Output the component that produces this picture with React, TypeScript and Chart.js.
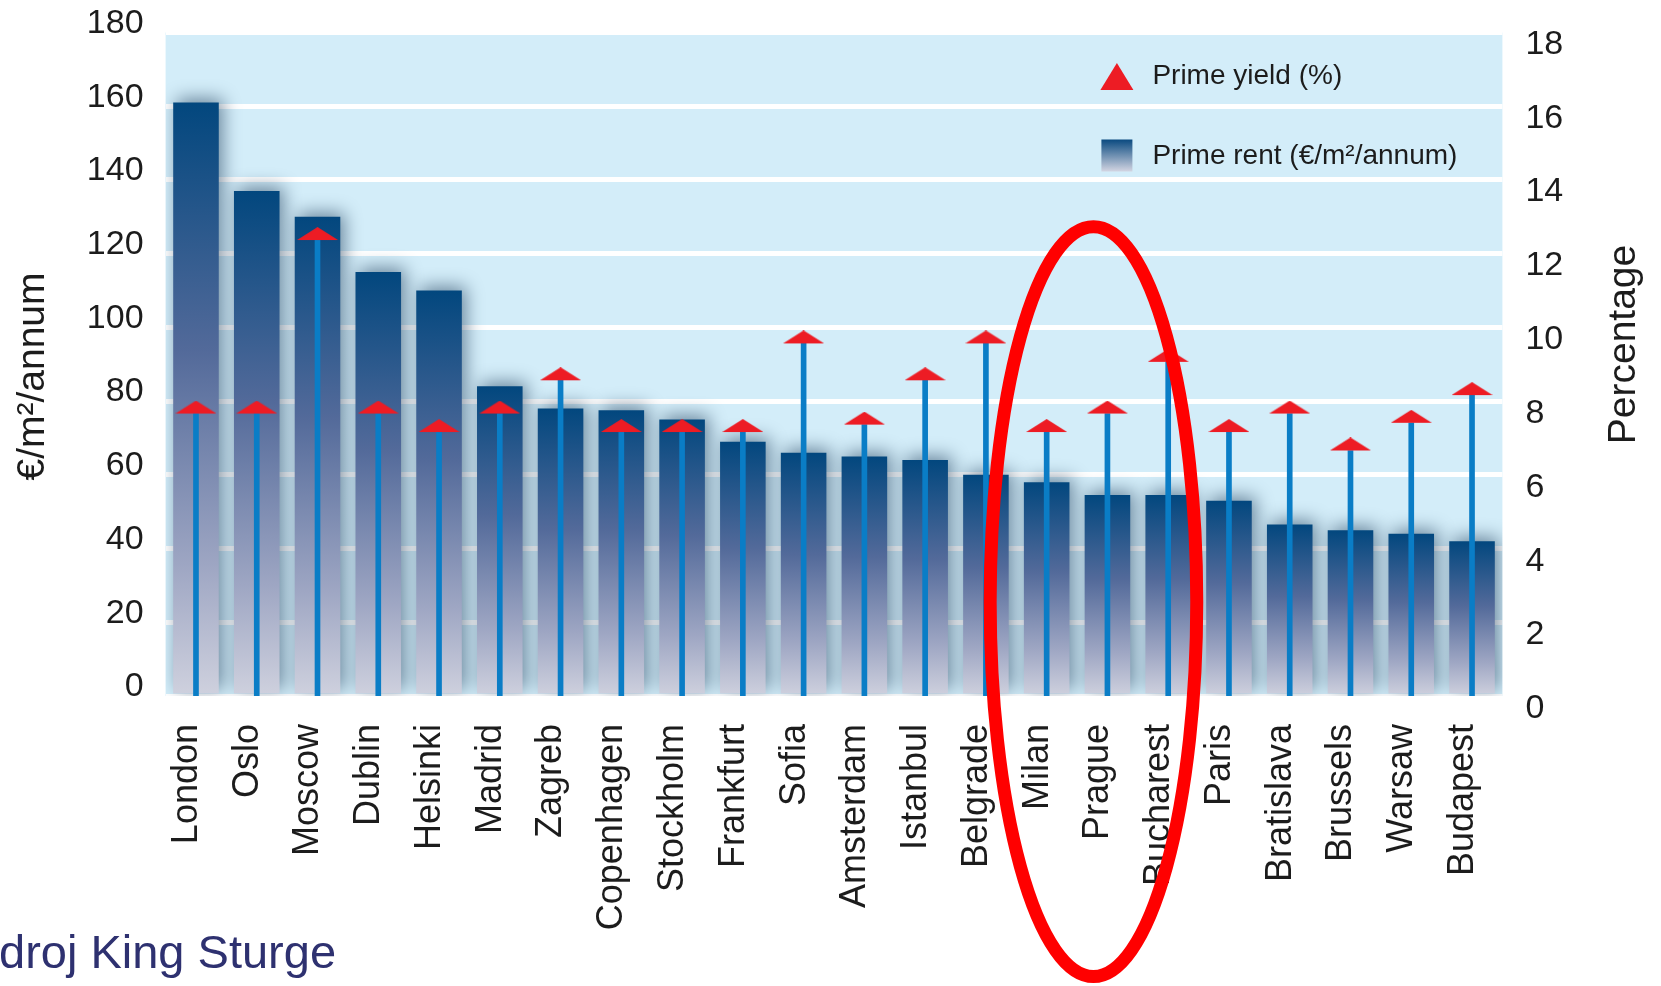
import React, { useEffect, useRef } from 'react';
import { Chart, registerables } from 'chart.js';

Chart.register(...registerables);

// ---------- data ----------
const cities = [
  'London', 'Oslo', 'Moscow', 'Dublin', 'Helsinki', 'Madrid', 'Zagreb', 'Copenhagen',
  'Stockholm', 'Frankfurt', 'Sofia', 'Amsterdam', 'Istanbul', 'Belgrade', 'Milan',
  'Prague', 'Bucharest', 'Paris', 'Bratislava', 'Brussels', 'Warsaw', 'Budapest',
];
const primeRent = [161, 137, 130, 115, 110, 84, 78, 77.5, 75, 69, 66, 65, 64, 60, 58, 54.5, 54.5, 53, 46.5, 45, 44, 42];
const primeYield = [8.0, 8.0, 12.7, 8.0, 7.5, 8.0, 8.9, 7.5, 7.5, 7.5, 9.9, 7.7, 8.9, 9.9, 7.5, 8.0, 9.4, 7.5, 8.0, 7.0, 7.75, 8.5];
const rentTicks = [0, 20, 40, 60, 80, 100, 120, 140, 160, 180];
const yieldTicks = [0, 2, 4, 6, 8, 10, 12, 14, 16, 18];

const rentLabel = 'Prime rent (€/m²/annum)';
const yieldLabel = 'Prime yield (%)';
const leftTitle = '€/m²/annum';
const rightTitle = 'Percentage';
const sourceText = 'droj King Sturge';
const highlightCity = 'Prague';

// ---------- styles ----------
const FONT = '"Liberation Sans", Arial, Helvetica, sans-serif';
const RED = '#ed1c24';
const STEM = '#0a7dc6';
const BAND = '#d3edf9';
const TEXT = '#1c1c1c';

function makeTriangle(w: number, h: number, color: string) {
  const c = document.createElement('canvas');
  c.width = w;
  c.height = h * 2;
  const g = c.getContext('2d')!;
  g.fillStyle = color;
  g.beginPath();
  g.moveTo(w / 2, 0);
  g.lineTo(w, h);
  g.lineTo(0, h);
  g.closePath();
  g.fill();
  return c;
}

function rentGradientStops(g: CanvasGradient) {
  g.addColorStop(0, '#02477e');
  g.addColorStop(0.42, '#536a9a');
  g.addColorStop(0.78, '#9ea6c3');
  g.addColorStop(1, '#cfd1de');
}

const bandPlugin = {
  id: 'band',
  beforeDraw(chart: any) {
    const { ctx, chartArea: a } = chart;
    if (!a) return;
    ctx.save();
    ctx.fillStyle = BAND;
    ctx.fillRect(a.left, a.top, a.right - a.left, a.bottom - a.top);
    ctx.restore();
  },
};

const shadowPlugin = {
  id: 'barShadow',
  beforeDatasetDraw(chart: any, args: any) {
    if (args.index !== 2) return;
    const ctx = chart.ctx;
    ctx.save();
    ctx.shadowColor = 'rgba(20,50,80,0.55)';
    ctx.shadowBlur = 18;
    ctx.shadowOffsetX = 4;
    ctx.shadowOffsetY = -4;
  },
  afterDatasetDraw(chart: any, args: any) {
    if (args.index !== 2) return;
    chart.ctx.restore();
  },
};

const legendPlugin = {
  id: 'insideLegend',
  afterDatasetsDraw(chart: any) {
    const { ctx, chartArea: a } = chart;
    const x0 = a.right - 402;
    const yA = a.top + 44;
    const yB = a.top + 123;
    ctx.save();
    ctx.fillStyle = RED;
    ctx.beginPath();
    ctx.moveTo(x0 + 16.5, yA - 13.5);
    ctx.lineTo(x0 + 33, yA + 13.5);
    ctx.lineTo(x0, yA + 13.5);
    ctx.closePath();
    ctx.fill();
    const g = ctx.createLinearGradient(0, yB - 16, 0, yB + 16);
    g.addColorStop(0, '#0a4a80');
    g.addColorStop(1, '#d3d5e2');
    ctx.fillStyle = g;
    ctx.fillRect(x0 + 1, yB - 16, 31, 32);
    ctx.fillStyle = TEXT;
    ctx.font = `28px ${FONT}`;
    ctx.textAlign = 'left';
    ctx.textBaseline = 'middle';
    ctx.fillText(yieldLabel, x0 + 52, yA);
    ctx.fillText(rentLabel, x0 + 52, yB + 1);
    ctx.restore();
  },
};

const titlesPlugin = {
  id: 'axisTitles',
  afterDraw(chart: any) {
    const { ctx, chartArea: a } = chart;
    ctx.save();
    ctx.fillStyle = TEXT;
    ctx.font = `39px ${FONT}`;
    ctx.textAlign = 'center';
    ctx.textBaseline = 'middle';
    ctx.save();
    ctx.translate(a.left - 132, a.top + 344);
    ctx.rotate(-Math.PI / 2);
    ctx.fillText(leftTitle, 0, 0);
    ctx.restore();
    ctx.save();
    ctx.translate(a.right + 122, a.top + 312);
    ctx.rotate(-Math.PI / 2);
    ctx.fillText(rightTitle, 0, 0);
    ctx.restore();
    ctx.restore();
  },
};

const highlightPlugin = {
  id: 'highlight',
  afterDraw(chart: any) {
    const { ctx } = chart;
    const xs = chart.scales.x;
    const ys = chart.scales.y;
    const idx = cities.indexOf(highlightCity);
    const step = xs.getPixelForValue(1) - xs.getPixelForValue(0);
    const cx = xs.getPixelForValue(idx) - 0.23 * step;
    const top = ys.getPixelForValue(127.3);
    const bottom = chart.height - 9.5;
    const cy = (top + bottom) / 2;
    const ry = (bottom - top) / 2;
    const rx = 1.7 * step;
    ctx.save();
    ctx.strokeStyle = '#ff0000';
    ctx.lineWidth = 13;
    ctx.beginPath();
    ctx.ellipse(cx, cy, rx, ry, 0, 0, Math.PI * 2);
    ctx.stroke();
    ctx.restore();
  },
};

export default function App() {
  const ref = useRef<HTMLCanvasElement | null>(null);

  useEffect(() => {
    if (!ref.current) return;
    Chart.defaults.font.family = FONT;
    const tri = makeTriangle(41, 13, RED);

    const rentFill = (c: any) => {
      const chart = c.chart;
      const area = chart.chartArea;
      if (!area || c.type !== 'data') return '#3a5f8f';
      const top = chart.scales.y.getPixelForValue(c.raw);
      const g = chart.ctx.createLinearGradient(0, top, 0, area.bottom);
      rentGradientStops(g);
      return g;
    };

    const chart = new Chart(ref.current, {
      type: 'bar',
      data: {
        labels: cities,
        datasets: [
          {
            type: 'line',
            label: yieldLabel,
            data: primeYield,
            yAxisID: 'y1',
            showLine: false,
            pointStyle: tri as any,
            pointRadius: 6,
            pointHoverRadius: 6,
            backgroundColor: RED,
            borderColor: RED,
            order: 1,
            clip: false as any,
          } as any,
          {
            type: 'bar',
            label: 'yield stem',
            data: primeYield,
            yAxisID: 'y1',
            backgroundColor: STEM,
            barThickness: 5,
            grouped: false,
            order: 2,
          } as any,
          {
            type: 'bar',
            label: rentLabel,
            data: primeRent,
            yAxisID: 'y',
            backgroundColor: rentFill,
            barPercentage: 0.75,
            categoryPercentage: 1,
            grouped: false,
            borderWidth: 0,
            order: 3,
          } as any,
        ],
      },
      options: {
        animation: false,
        responsive: true,
        maintainAspectRatio: false,
        events: [],
        layout: { padding: { top: 32.5, left: 0, right: 0, bottom: 0 } },
        plugins: {
          legend: { display: false },
          tooltip: { enabled: false },
        },
        scales: {
          x: {
            grid: { display: false, drawTicks: false },
            border: { display: false },
            ticks: {
              font: { size: 36 },
              color: TEXT,
              minRotation: 90,
              maxRotation: 90,
              autoSkip: false,
              padding: 28,
              labelOffset: -9,
            },
            afterFit: (s: any) => {
              s.height = 290;
              s.paddingLeft = 0;
              s.paddingRight = 0;
            },
          },
          y: {
            position: 'left',
            min: 0,
            max: 180,
            afterBuildTicks: (ax: any) => {
              ax.ticks = rentTicks.map((v) => ({ value: v }));
            },
            grid: { color: '#ffffff', lineWidth: 5, drawTicks: false },
            border: { display: false },
            ticks: {
              font: { size: 34 },
              color: TEXT,
              padding: 22,
              labelOffset: -9,
              autoSkip: false,
            },
            afterFit: (s: any) => {
              s.width = 165.6;
              s.paddingTop = 0;
              s.paddingBottom = 0;
            },
          },
          y1: {
            position: 'right',
            min: 0.35,
            max: 18.32,
            afterBuildTicks: (ax: any) => {
              ax.ticks = yieldTicks.map((v) => ({ value: v }));
            },
            grid: { display: false, drawTicks: false },
            border: { display: false },
            ticks: {
              font: { size: 34 },
              color: TEXT,
              padding: 23,
              autoSkip: false,
            },
            afterFit: (s: any) => {
              s.width = 158.6;
              s.paddingTop = 0;
              s.paddingBottom = 0;
            },
          },
        } as any,
      },
      plugins: [bandPlugin, shadowPlugin, legendPlugin, titlesPlugin, highlightPlugin],
    });

    return () => chart.destroy();
  }, []);

  return (
    <div
      style={{
        position: 'fixed',
        left: 0,
        top: 0,
        width: '100vw',
        height: '100vh',
        overflow: 'hidden',
        background: '#ffffff',
      }}
    >
      <canvas ref={ref} />
      <div
        style={{
          position: 'absolute',
          left: -1,
          top: 928,
          fontFamily: FONT,
          fontSize: 47,
          lineHeight: 1,
          color: '#2e3170',
          whiteSpace: 'nowrap',
        }}
      >
        {sourceText}
      </div>
    </div>
  );
}
